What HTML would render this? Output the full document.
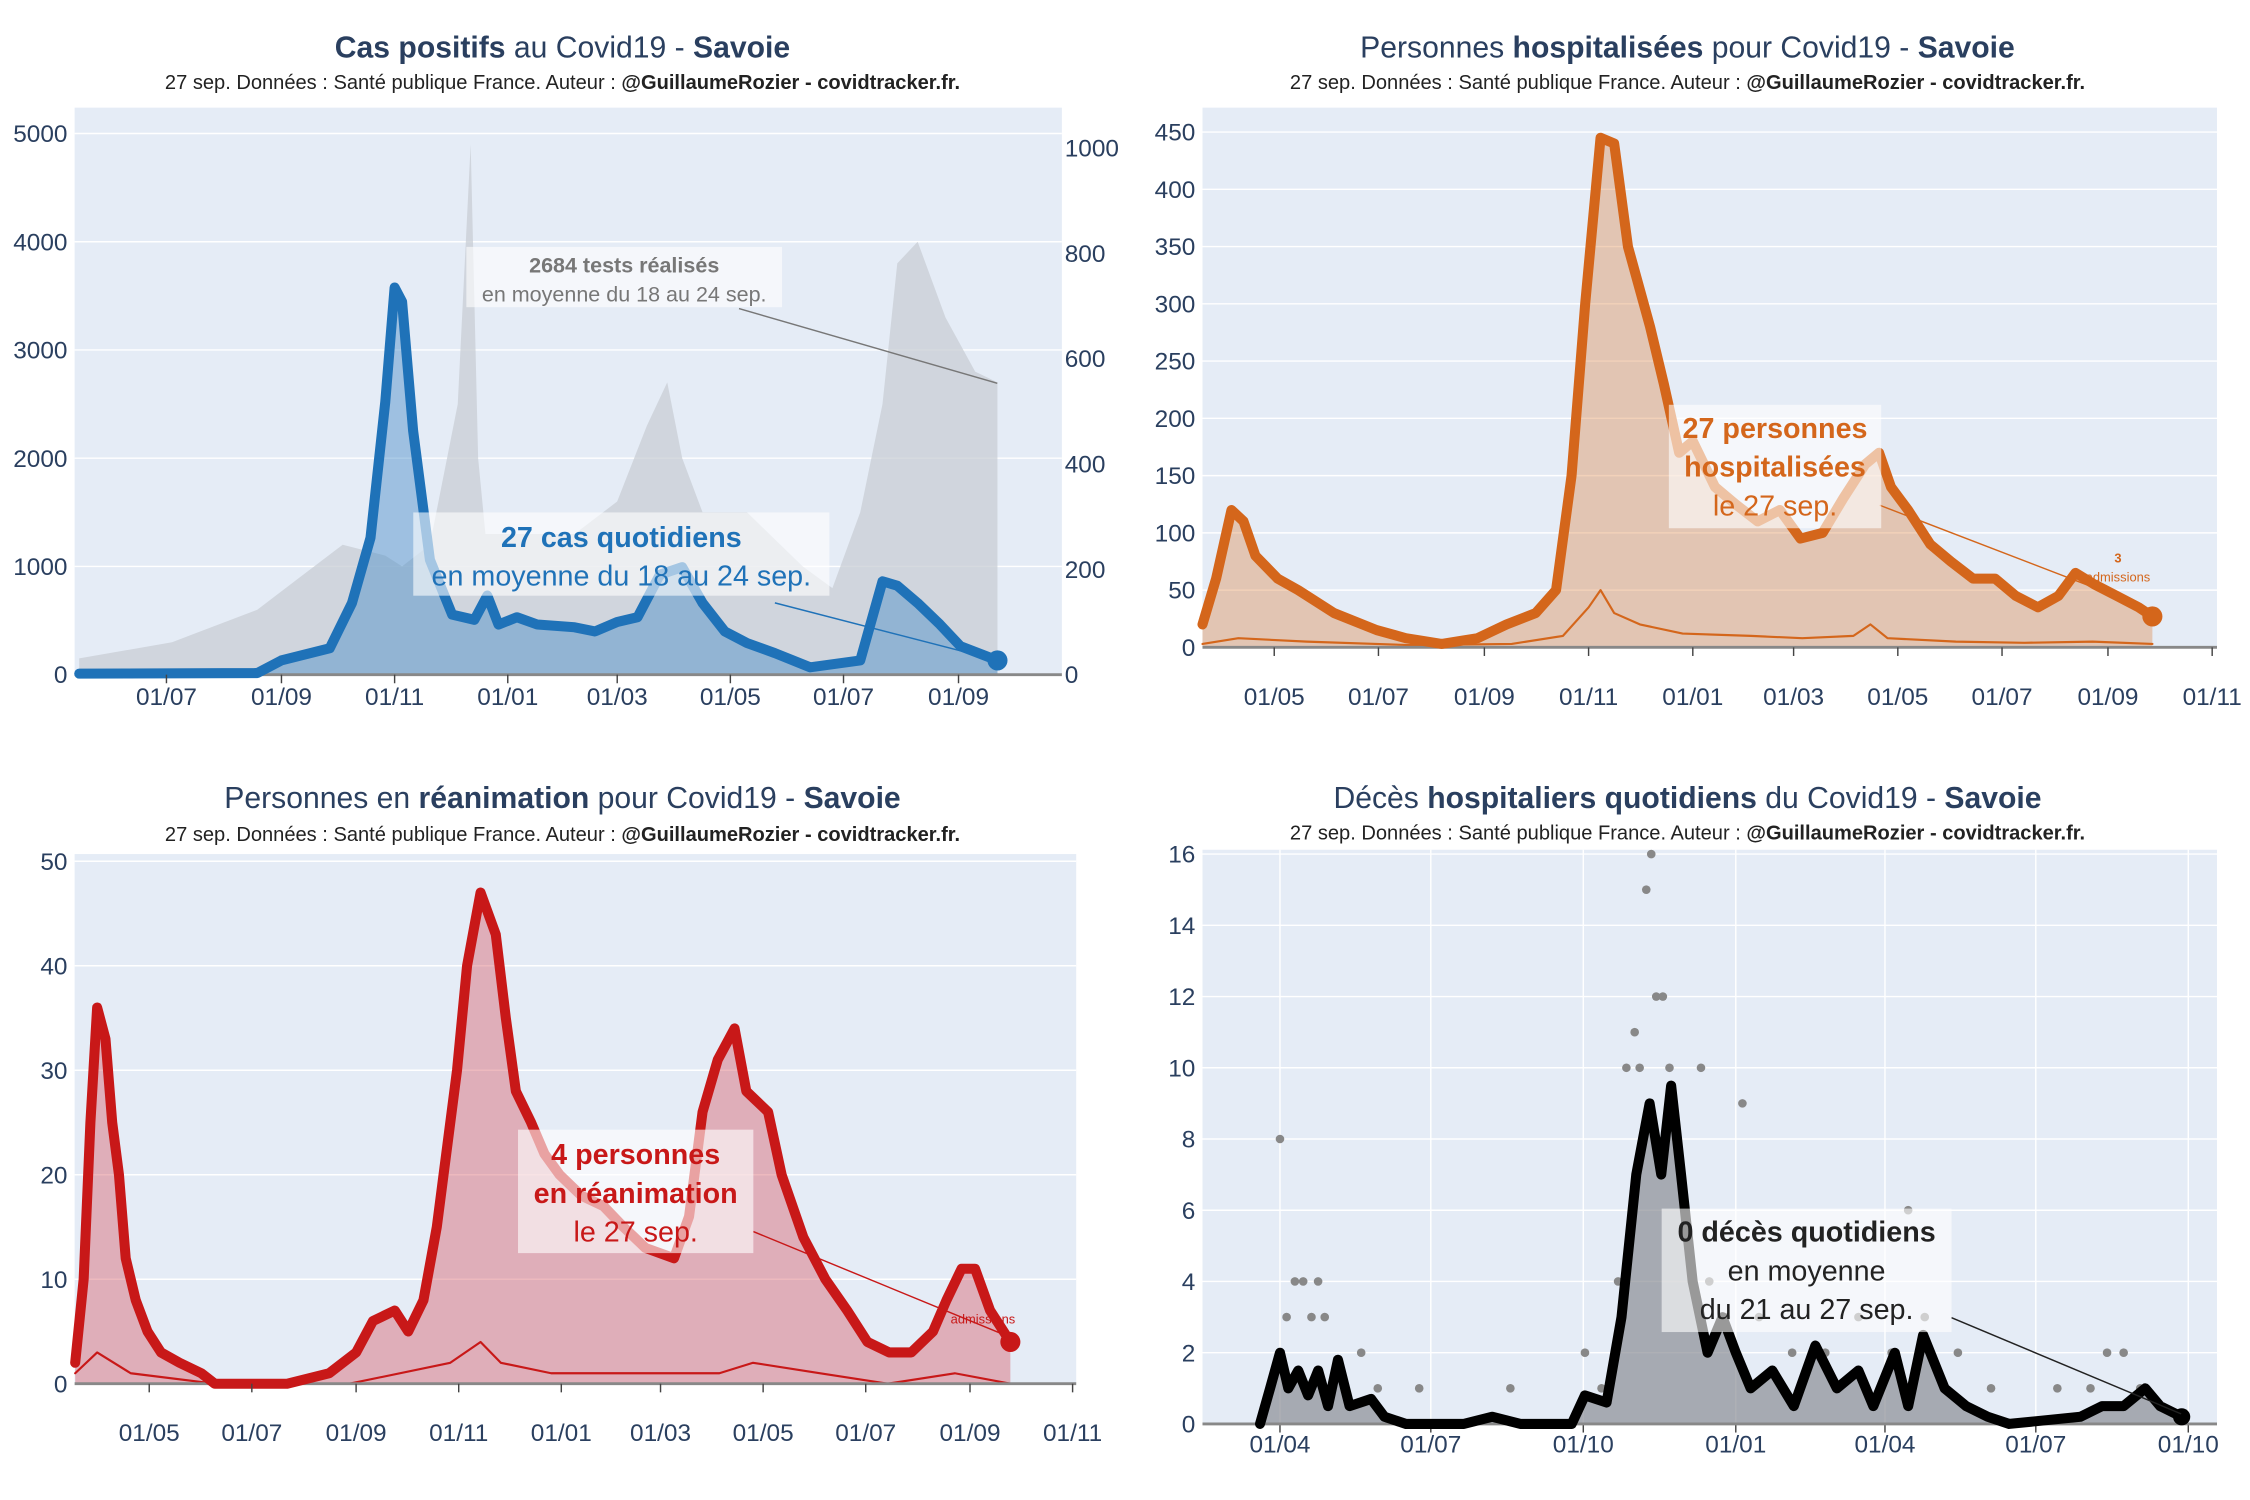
<!DOCTYPE html>
<html><head><meta charset="utf-8"><style>
html,body{margin:0;padding:0;background:#fff;}
svg{display:block;font-family:"Liberation Sans","DejaVu Sans",sans-serif;}
</style></head><body>
<svg id="c" width="2250" height="1500" viewBox="0 0 1568 1045" preserveAspectRatio="none" xmlns="http://www.w3.org/2000/svg"></svg>
<script>
// ---------- DATA ----------
// Panel 1: cases (right axis) and tests (left axis); x = days since 2020-01-01
const casesDays=[135,231,244,270,282,292,300,305,309,315,324,336,348,355,361,371,382,402,413,425,436,448,460,471,483,495,510,529,556,568,576,587,599,610,630];
const casesValues=[2,3,27,50,136,260,518,735,708,463,218,114,104,150,95,109,95,90,82,100,109,190,204,136,82,60,41,14,27,177,169,136,95,54,27];
const testsDays=[135,185,231,254,277,300,309,324,339,346,350,354,361,371,402,425,441,452,460,471,483,495,525,541,556,568,576,587,602,618,630];
const testsValues=[150,300,600,900,1200,1100,1000,1200,2500,4900,2000,1300,1300,1300,1300,1600,2300,2700,2000,1500,1500,1500,1000,800,1500,2500,3800,4000,3300,2800,2700];
const p1LeftTicks=[0,1000,2000,3000,4000,5000];
const p1RightTicks=[0,200,400,600,800,1000];
const p1TickLabels=["01/07","01/09","01/11","01/01","01/03","01/05","01/07","01/09"];
const p1TickDays=[182,244,305,366,425,486,547,609];
// Panel 2: hospitalised
const hospDays=[79,87,96,103,110,123,135,156,181,198,219,240,257,274,286,295,303,312,320,328,341,349,358,366,379,391,404,417,429,442,454,467,475,482,492,505,517,530,543,555,568,580,590,601,614,627,635];
const hospValues=[20,60,120,110,80,60,50,30,15,8,3,8,20,30,50,150,300,445,440,350,280,230,170,180,140,125,110,120,95,100,130,160,170,140,120,90,75,60,60,45,35,45,65,55,45,35,27];
const admDays=[79,100,140,200,260,290,305,312,320,335,360,400,430,460,470,480,520,560,600,635];
const admValues=[3,8,5,2,3,10,35,50,30,20,12,10,8,10,20,8,5,4,5,3];
const p2Ticks=[0,50,100,150,200,250,300,350,400,450];
const p2TickLabels=["01/05","01/07","01/09","01/11","01/01","01/03","01/05","01/07","01/09","01/11"];
const p2TickDays=[121,182,244,305,366,425,486,547,609,670];
// Panel 3: ICU
const icuDays=[77,82,86,90,95,99,103,107,113,120,128,139,152,160,203,228,244,254,267,275,284,292,304,310,318,327,333,339,348,356,365,378,391,403,416,433,442,450,459,469,476,489,497,510,523,536,548,561,574,587,595,604,612,621,633];
const icuValues=[2,10,25,36,33,25,20,12,8,5,3,2,1,0,0,1,3,6,7,5,8,15,30,40,47,43,35,28,25,22,20,18,17,15,13,12,16,26,31,34,28,26,20,14,10,7,4,3,3,5,8,11,11,7,4];
const icuAdmDays=[77,90,110,160,240,300,318,330,360,400,460,480,520,560,600,633];
const icuAdmValues=[1,3,1,0,0,2,4,2,1,1,1,2,1,0,1,0];
const p3Ticks=[0,10,20,30,40,50];
const p3TickLabels=["01/05","01/07","01/09","01/11","01/01","01/03","01/05","01/07","01/09","01/11"];
const p3TickDays=[121,182,244,305,366,425,486,547,609,670];
// Panel 4: deaths
const deathDays=[79,85,91,96,102,108,114,120,126,133,146,154,167,202,219,236,267,275,288,297,306,314,321,327,333,340,349,358,366,375,388,401,414,427,440,449,462,470,479,492,505,518,531,574,587,600,613,622,635];
const deathValues=[0,1,2,1,1.5,0.8,1.5,0.5,1.8,0.5,0.7,0.2,0,0,0.2,0,0,0.8,0.6,3,7,9,7,9.5,7,4,2,3,2,1,1.5,0.5,2.2,1,1.5,0.5,2,0.5,2.5,1,0.5,0.2,0,0.2,0.5,0.5,1,0.5,0.2];
const dotDays=[91,95,100,105,110,114,118,140,150,175,230,275,285,295,300,305,308,312,315,318,322,326,330,335,340,345,350,360,370,380,400,420,440,460,470,480,500,520,560,580,590,600,610];
const dotValues=[8,3,4,4,3,4,3,2,1,1,1,2,1,4,10,11,10,15,16,12,12,10,8,6,4,10,4,3,9,3,2,2,3,2,6,3,2,1,1,1,2,2,1];
const p4Ticks=[0,2,4,6,8,10,12,14,16];
const p4TickLabels=["01/04","01/07","01/10","01/01","01/04","01/07","01/10"];
const p4TickDays=[91,182,274,366,456,547,639];

// ---------- DRAWING ----------
const svg=document.getElementById('c');
const NS="http://www.w3.org/2000/svg";
function el(tag,attrs,parent){const e=document.createElementNS(NS,tag);for(const k in attrs)e.setAttribute(k,attrs[k]);(parent||svg).appendChild(e);return e;}
function txt(x,y,s,attrs,parent){const t=el('text',Object.assign({x:x,y:y},attrs),parent);t.innerHTML=s;return t;}

function makePanel(p){
  const g=el('g',{});
  
  
  const bg=el('rect',{x:p.x0,y:p.top,width:p.x1-p.x0,height:p.yb-p.top,fill:'#e5ecf6'},g);
  
  
  const X=d=>p.ax+(d-p.ad)*p.k;
  const Y=v=>p.yb-(v-0)*(p.yb-p.ytop)/p.ymax;
  return {g,X,Y};
}
function hgrid(P,p,ticks,side,fmtX){
  ticks.forEach(t=>{
    const yy=P.Y(t);
    const l=el('line',{x1:p.x0,x2:p.x1,y1:yy,y2:yy,stroke:'#fff','stroke-width':1},P.g);
    
    
    const tl=txt(side==='l'?p.x0-5:fmtX,yy+6,String(t),{'font-size':17,fill:'#2a3f5f','text-anchor':side==='l'?'end':'start'},P.g);
    
    
  });
}
function xticks(P,p,days,labels,ly,vgrid){
  days.forEach((d,i)=>{
    const xx=P.X(d);
    if(vgrid){const l=el('line',{x1:xx,x2:xx,y1:p.top,y2:p.yb,stroke:'#fff','stroke-width':1},P.g);
      
      }
    const tk=el('line',{x1:xx,x2:xx,y1:p.yb,y2:p.yb+6,stroke:'#444','stroke-width':1},P.g);
    
    
    const t=txt(xx,ly,labels[i],{'font-size':17,fill:'#2a3f5f','text-anchor':'middle'},P.g);
    
    
  });
}
function pathFrom(days,vals,X,Y){return days.map((d,i)=>(i?'L':'M')+X(d).toFixed(1)+','+Y(vals[i]).toFixed(1)).join(' ');}
function area(P,days,vals,Y,fill,name){
  const d=pathFrom(days,vals,P.X,Y)+' L'+P.X(days[days.length-1])+','+Y(0)+' L'+P.X(days[0])+','+Y(0)+' Z';
  const a=el('path',{d:d,fill:fill,stroke:'none'},P.g);
  
  
}
function line(P,days,vals,Y,color,w,name){
  const l=el('path',{d:pathFrom(days,vals,P.X,Y),fill:'none',stroke:color,'stroke-width':w,'stroke-linejoin':'round','stroke-linecap':'round'},P.g);
  
  
}
function title(x,y,html,sub,sy){
  const t=txt(x,y,html,{'font-size':21,fill:'#2a3f5f','text-anchor':'middle'});
  
  
  const s=txt(x,sy,sub,{'font-size':14,fill:'#222','text-anchor':'middle'});
  
  
}
function annot(P,bx,by,bw,bh,lines,color,ax1,ay1,ax2,ay2){
  const a=el('line',{x1:ax1,y1:ay1,x2:ax2,y2:ay2,stroke:color,'stroke-width':1},P.g);
  
  
  const r=el('rect',{x:bx,y:by,width:bw,height:bh,fill:'rgba(255,255,255,0.6)'},P.g);
  
  
  lines.forEach(L=>{const t=txt(bx+bw/2,L.y,L.s,{'font-size':L.f,fill:color,'text-anchor':'middle','font-weight':L.b?'bold':'normal'},P.g);
    
    });
}
const SUB='27 sep. Données : Santé publique France. Auteur : <tspan font-weight="bold">@GuillaumeRozier - covidtracker.fr.</tspan>';

// Panel 1
(function(){
  const p={name:'cases-panel',x0:52,x1:740,top:75,yb:470,ytop:93,ymax:5000,ax:116,ad:182,k:1.2927};
  const P=makePanel(p);
  hgrid(P,p,p1LeftTicks,'l');
  const YR=v=>470-v*(470-103)/1000;
  p1RightTicks.forEach(t=>{const tl=txt(742,YR(t)+6,String(t),{'font-size':17,fill:'#2a3f5f'},P.g);
    
    });
  area(P,testsDays,testsValues,P.Y,'rgba(200,205,212,0.75)','tests-area');
  area(P,casesDays,casesValues,YR,'rgba(70,140,200,0.45)','cases-area');
  el('line',{x1:52,x2:740,y1:470,y2:470,stroke:'#888','stroke-width':2},P.g);
  line(P,casesDays,casesValues,YR,'#1f72b8',7,'cases-line');
  const n=casesDays.length-1;
  const c=el('circle',{cx:P.X(casesDays[n]),cy:YR(casesValues[n]),r:7,fill:'#1f72b8'},P.g);
  
  
  xticks(P,p,p1TickDays,p1TickLabels,491,false);
  annot(P,325,172,220,42,[{y:190,s:'2684 tests réalisés',f:15,b:1},{y:210,s:'en moyenne du 18 au 24 sep.',f:15}],'#777',515,215,695,267);
  annot(P,288,357,290,58,[{y:381,s:'27 cas quotidiens',f:20,b:1},{y:408,s:'en moyenne du 18 au 24 sep.',f:20}],'#1f72b8',540,420,695,460);
  title(392,40,'<tspan font-weight="bold">Cas positifs</tspan> au Covid19 - <tspan font-weight="bold">Savoie</tspan>',SUB,62);
})();
// Panel 2
(function(){
  const p={name:'hospital-panel',x0:838,x1:1545,top:75,yb:451,ytop:92,ymax:450,ax:888,ad:121,k:1.1906};
  const P=makePanel(p);
  hgrid(P,p,p2Ticks,'l');
  area(P,hospDays,hospValues,P.Y,'rgba(222,140,80,0.4)','hosp-area');
  line(P,admDays,admValues,P.Y,'#d4661b',1.5,'admissions-line');
  el('line',{x1:838,x2:1545,y1:451,y2:451,stroke:'#888','stroke-width':2},P.g);
  line(P,hospDays,hospValues,P.Y,'#d4661b',7,'hosp-line');
  const n=hospDays.length-1;
  const c=el('circle',{cx:P.X(hospDays[n]),cy:P.Y(hospValues[n]),r:7,fill:'#d4661b'},P.g);
  
  
  xticks(P,p,p2TickDays,p2TickLabels,491,false);
  annot(P,1163,282,148,86,[{y:305,s:'27 personnes',f:20,b:1},{y:332,s:'hospitalisées',f:20,b:1},{y:359,s:'le 27 sep.',f:20}],'#d4661b',1310,352,1500,425);
  const t1=txt(1476,392,'3',{'font-size':9,fill:'#d4661b','text-anchor':'middle','font-weight':'bold'},P.g);
  
  
  const t2=txt(1476,405,'admissions',{'font-size':9,fill:'#d4661b','text-anchor':'middle'},P.g);
  
  
  title(1176,40,'Personnes <tspan font-weight="bold">hospitalisées</tspan> pour Covid19 - <tspan font-weight="bold">Savoie</tspan>',SUB,62);
})();
// Panel 3
(function(){
  const p={name:'icu-panel',x0:52,x1:750,top:595,yb:964,ytop:600,ymax:50,ax:104,ad:121,k:1.1721};
  const P=makePanel(p);
  hgrid(P,p,p3Ticks,'l');
  area(P,icuDays,icuValues,P.Y,'rgba(215,100,110,0.45)','icu-area');
  line(P,icuAdmDays,icuAdmValues,P.Y,'#c81818',1.5,'icu-admissions-line');
  el('line',{x1:52,x2:750,y1:964,y2:964,stroke:'#888','stroke-width':2},P.g);
  line(P,icuDays,icuValues,P.Y,'#c81818',7,'icu-line');
  const n=icuDays.length-1;
  const c=el('circle',{cx:P.X(icuDays[n]),cy:P.Y(icuValues[n]),r:7,fill:'#c81818'},P.g);
  
  
  xticks(P,p,p3TickDays,p3TickLabels,1004,false);
  annot(P,361,787,164,86,[{y:811,s:'4 personnes',f:20,b:1},{y:838,s:'en réanimation',f:20,b:1},{y:865,s:'le 27 sep.',f:20}],'#c81818',525,858,705,932);
  const t=txt(685,922,'admissions',{'font-size':9,fill:'#c81818','text-anchor':'middle'},P.g);
  
  
  title(392,563,'Personnes en <tspan font-weight="bold">réanimation</tspan> pour Covid19 - <tspan font-weight="bold">Savoie</tspan>',SUB,586);
})();
// Panel 4
(function(){
  const p={name:'deaths-panel',x0:838,x1:1545,top:592,yb:992,ytop:595,ymax:16,ax:892,ad:91,k:1.1551};
  const P=makePanel(p);
  hgrid(P,p,p4Ticks,'l');
  xticks(P,p,p4TickDays,p4TickLabels,1012,true);
  area(P,deathDays,deathValues,P.Y,'rgba(140,143,150,0.7)','deaths-area');
  dotDays.forEach((d,i)=>{
    const c=el('circle',{cx:P.X(d),cy:P.Y(dotValues[i]),r:3,fill:'#888'},P.g);
    
    
  });
  el('line',{x1:838,x2:1545,y1:992,y2:992,stroke:'#888','stroke-width':2},P.g);
  line(P,deathDays,deathValues,P.Y,'#000',7,'deaths-line');
  const n=deathDays.length-1;
  const c=el('circle',{cx:P.X(deathDays[n]),cy:P.Y(deathValues[n]),r:6,fill:'#000'},P.g);
  
  
  annot(P,1158,842,202,86,[{y:865,s:'0 décès quotidiens',f:20,b:1},{y:892,s:'en moyenne',f:20},{y:919,s:'du 21 au 27 sep.',f:20}],'#222',1360,918,1520,985);
  title(1176,563,'Décès <tspan font-weight="bold">hospitaliers quotidiens</tspan> du Covid19 - <tspan font-weight="bold">Savoie</tspan>',SUB,585);
})();
</script>
</body></html>
